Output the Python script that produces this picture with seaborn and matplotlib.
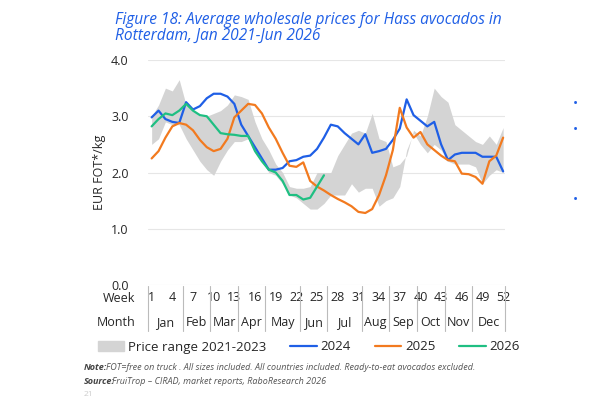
import matplotlib
matplotlib.use("Agg")
import matplotlib.pyplot as plt
import seaborn as sns
import pandas as pd
import matplotlib.transforms as mtrans

weeks = list(range(1, 53))
band_upper = [3.0,3.2,3.5,3.45,3.65,3.2,3.1,3.0,3.0,3.05,3.1,3.2,3.38,3.35,3.3,2.9,2.6,2.4,2.15,2.0,1.75,1.72,1.72,1.75,2.0,2.0,2.0,2.3,2.5,2.7,2.75,2.7,3.05,2.6,2.55,2.1,2.15,2.3,2.75,2.65,3.0,3.5,3.35,3.25,2.85,2.75,2.65,2.55,2.5,2.65,2.5,2.8]
band_lower = [2.5,2.6,2.9,2.85,2.85,2.6,2.4,2.2,2.05,1.95,2.2,2.4,2.55,2.55,2.6,2.35,2.2,2.0,1.95,1.8,1.6,1.55,1.45,1.35,1.35,1.45,1.6,1.6,1.6,1.8,1.65,1.72,1.72,1.4,1.5,1.55,1.75,2.4,2.7,2.5,2.35,2.5,2.4,2.2,2.15,2.15,2.15,2.1,1.8,1.95,2.05,2.0]
p2024 = [2.98,3.1,2.95,2.9,2.88,3.25,3.12,3.18,3.32,3.4,3.4,3.35,3.22,2.85,2.65,2.45,2.25,2.05,2.05,2.08,2.2,2.22,2.28,2.3,2.42,2.62,2.85,2.82,2.7,2.6,2.5,2.68,2.35,2.38,2.42,2.58,2.78,3.3,3.02,2.92,2.82,2.9,2.5,2.22,2.32,2.35,2.35,2.35,2.28,2.28,2.28,2.02]
p2025 = [2.25,2.38,2.62,2.82,2.88,2.85,2.75,2.58,2.45,2.38,2.42,2.6,2.98,3.1,3.22,3.2,3.05,2.8,2.6,2.35,2.12,2.1,2.18,1.85,1.75,1.68,1.6,1.53,1.47,1.4,1.3,1.28,1.35,1.6,1.95,2.4,3.15,2.8,2.62,2.72,2.5,2.4,2.3,2.22,2.2,1.98,1.97,1.92,1.8,2.2,2.3,2.62]
p2026 = [2.82,2.95,3.05,3.02,3.1,3.22,3.1,3.02,3.0,2.85,2.7,2.68,2.67,2.65,2.65,2.38,2.2,2.05,2.0,1.85,1.6,1.6,1.52,1.55,1.75,1.95]
week_ticks = [1,4,7,10,13,16,19,22,25,28,31,34,37,40,43,46,49,52]
months = ["Jan","Feb","Mar","Apr","May","Jun","Jul","Aug","Sep","Oct","Nov","Dec"]
month_bounds = [0.5,5.5,9.5,13.5,17.5,22.5,26.5,31.5,35.5,39.5,43.5,47.5,52.3]

sns.set_theme(style="white")
plt.rcParams['font.family'] = ['Open Sans', 'DejaVu Sans']

fig = plt.figure(figsize=(6, 4), dpi=100)
ax = fig.add_axes([0.247, 0.2875, 0.595, 0.5625])

ax.fill_between(weeks, band_lower, band_upper, color="#d4d4d4", lw=0)
df = pd.concat([
    pd.DataFrame({"week": weeks, "price": p2024, "year": "2024"}),
    pd.DataFrame({"week": weeks, "price": p2025, "year": "2025"}),
    pd.DataFrame({"week": weeks[:len(p2026)], "price": p2026, "year": "2026"}),
])
pal = {"2024": "#1f5fe6", "2025": "#f27a1f", "2026": "#1fbf82"}
sns.lineplot(data=df, x="week", y="price", hue="year", palette=pal, lw=1.6, ax=ax, legend=False)

ax.set_xlim(0.5, 52.3)
ax.set_ylim(0, 4)
ax.set_yticks([0, 1, 2, 3, 4])
ax.set_yticklabels(["0.0", "1.0", "2.0", "3.0", "4.0"], fontsize=9)
ax.yaxis.grid(True, color="#e6e6e6", lw=0.8)
for s in ax.spines.values():
    s.set_visible(False)
ax.set_xticks(week_ticks)
ax.set_xticklabels([str(w) for w in week_ticks], fontsize=9)
ax.tick_params(axis="x", length=0, pad=4)
ax.tick_params(axis="y", length=0, pad=14)
ax.set_xlabel("")
ax.set_ylabel("EUR FOT*/kg", fontsize=9)

tr = mtrans.blended_transform_factory(ax.transData, ax.transAxes)
for b in month_bounds:
    ax.plot([b, b], [-0.005, -0.205], transform=tr, color="#bbbbbb", lw=0.8, clip_on=False)
for i, m in enumerate(months):
    ax.text((month_bounds[i] + month_bounds[i+1]) / 2, -0.165, m, transform=tr,
            ha="center", va="center", fontsize=9)
fig.text(0.225, 1 - 298/400, "Week", ha="right", va="center", fontsize=9)
fig.text(0.225, 1 - 323/400, "Month", ha="right", va="center", fontsize=9)

fig.text(115/600, 0.97, "Figure 18: Average wholesale prices for Hass avocados in\nRotterdam, Jan 2021-Jun 2026",
         color="#1f5fe6", fontsize=11.2, style="italic", va="top", ha="left", linespacing=1.0)

from matplotlib.patches import Patch
from matplotlib.lines import Line2D
handles = [Patch(color="#d4d4d4", label="Price range 2021-2023"),
           Line2D([], [], color=pal["2024"], lw=1.6, label="2024"),
           Line2D([], [], color=pal["2025"], lw=1.6, label="2025"),
           Line2D([], [], color=pal["2026"], lw=1.6, label="2026")]
fig.legend(handles=handles, loc="center", bbox_to_anchor=(0.515, 1 - 347/400), ncol=4, frameon=False,
           fontsize=9.5, handlelength=2.0, columnspacing=1.8, handletextpad=0.3)

x0 = 84/600
t1 = fig.text(x0, 1 - 367/400, "Note:", fontsize=6.5, style="italic", weight="bold", color="#444444", va="center")
fig.text(x0 + 0.036, 1 - 367/400, "FOT=free on truck . All sizes included. All countries included. Ready-to-eat avocados excluded.",
         fontsize=6.5, style="italic", color="#555555", va="center")
fig.text(x0, 1 - 381/400, "Source:", fontsize=6.5, style="italic", weight="bold", color="#444444", va="center")
fig.text(x0 + 0.047, 1 - 381/400, "FruiTrop – CIRAD, market reports, RaboResearch 2026",
         fontsize=6.5, style="italic", color="#555555", va="center")
fig.text(x0, 1 - 394/400, "21", fontsize=6, color="#cccccc", va="center")
for yy in [105, 130, 200]:
    fig.text(575/600, 1 - yy/400, "•", color="#1f5fe6", fontsize=10, ha="center", va="center")

fig.savefig("out.png", dpi=100)
